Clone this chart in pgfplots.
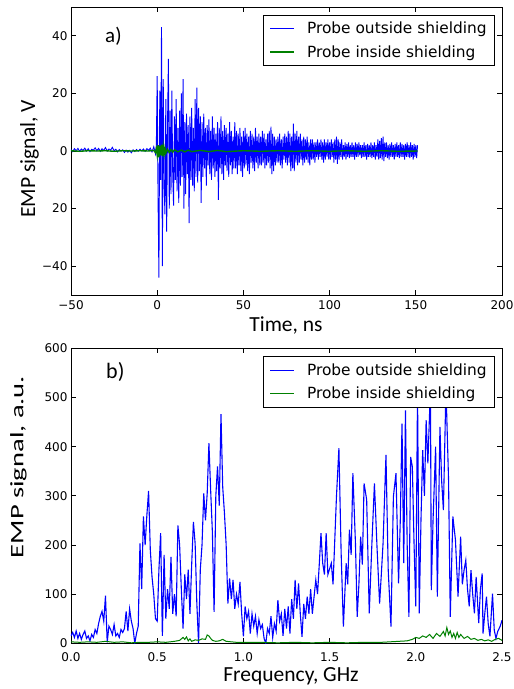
\documentclass[border=0pt]{standalone}
\usepackage{pgfplots}
\pgfplotsset{compat=1.18}
\usepackage{fontspec}
\setmainfont{Carlito}
\newfontfamily\dejavu{DejaVu Sans}
\definecolor{mplblue}{rgb}{0,0,1}
\definecolor{mplgreen}{rgb}{0,0.5,0}
\pgfplotsset{
  panel/.style={
    scale only axis, width=431pt,
    axis line style={black, line width=0.9pt},
    major tick style={black, line width=0.8pt},
    major tick length=5pt,
    tick align=inside,
    tick label style={font=\dejavu\fontsize{12}{14}\selectfont},
    legend style={at={(0.984,0.973)}, anchor=north east, draw=black, line width=0.9pt,
      font=\dejavu\fontsize{15.4}{18}\selectfont, inner xsep=6pt, inner ysep=5pt,
      row sep=6pt, cells={anchor=west},
      /tikz/every odd column/.append style={column sep=10pt}},
    legend image code/.code={\draw[#1,line width=1.1pt] (0pt,0pt) -- (24pt,0pt);},
    legend cell align=left,
  }
}
\begin{document}
\begin{tikzpicture}[x=1pt,y=1pt]
\path[use as bounding box] (0,0) rectangle (514,-689);
% ---------------- panel a ----------------
\begin{axis}[panel, at={(71pt,-295pt)}, anchor=south west, height=288pt,
  xmin=-50, xmax=200, ymin=-50, ymax=50,
  xtick={-50,0,50,100,150,200}, xticklabels={−50,0,50,100,150,200},
  ytick={-40,-20,0,20,40}, yticklabels={−40,20,0,20,40},
  xticklabel style={yshift=-2pt}]
\addplot[mplblue, line width=0.9pt] coordinates {
(-50,0.5) (-49,-0.2) (-48,0.8) (-47,0.1) (-46,0.9) (-45,-0.1) (-44,0.7) (-43,0.2) (-42,1.0) (-41,0.0)
(-40,0.8) (-39,-0.2) (-38,0.6) (-37,0.3) (-36,1.1) (-35,0.1) (-34,0.9) (-33,-0.1) (-32,0.8) (-31,0.2)
(-30,1.2) (-29,0.0) (-28,0.7) (-27,0.3) (-26,1.3) (-25,0.1) (-24,0.6) (-23,-0.3) (-22,0.5) (-21,0.0)
(-20,0.4) (-19,-0.5) (-18,0.3) (-17,-0.4) (-16,0.2) (-15,-0.6) (-14,0.4) (-13,-0.2) (-12,0.5) (-11,-0.1)
(-10,0.6) (-9,0.0) (-8,0.7) (-7,-0.1) (-6,0.8) (-5,0.2) (-4,1.0) (-3,-0.3) (-2,1.5) (-1,-1.0) (-0.5,2.0)
(0.0,26) (0.5,-17) (1.0,-44) (1.5,21) (2.0,-10) (2.5,43) (3.0,-40) (3.5,25) (4.0,-12) (4.5,-22)
(5.0,18) (5.5,-28) (6.0,10) (6.5,32) (7.0,-20) (7.5,14) (8.0,-15) (8.5,21) (9.0,-8) (9.5,-19)
(10,12) (10.5,-10) (11,18) (11.5,-14) (12,8) (12.5,-18) (13,14) (13.5,-12) (14,20) (14.5,-9)
(15,25) (15.5,-20) (16,10) (16.5,-15) (17,13) (17.5,-8) (18,9) (18.5,-25) (19,12) (19.5,-10)
(20,15) (20.5,-12) (21,8) (21.5,-14) (22,18) (22.5,-9) (23,22) (23.5,-11) (24,15) (24.5,-7)
(25,12) (25.5,-18) (26,10) (26.5,-9) (27,13) (27.5,-6) (28,8) (28.5,-12) (29,9) (29.5,-5)
(30,11) (30.5,-8) (31,7) (31.5,-10) (32,12) (32.5,-6) (33,8) (33.5,-9) (34,6) (34.5,-7)
(35,10) (35.5,-17) (36,8) (36.5,-6) (37,12) (37.5,-8) (38,7) (38.5,-10) (39,9) (39.5,-5)
(40,8) (40.5,-7) (41,6) (41.5,-9) (42,10) (42.5,-5) (43,7) (43.5,-8) (44,5) (44.5,-6)
(45,10) (45.5,-6) (46,7) (46.5,-8) (47,6) (47.5,-5) (48,8) (48.5,-7) (49,5) (49.5,-9)
(50,7) (50.5,-6) (51,8) (51.5,-5) (52,6) (52.5,-7) (53,5) (53.5,-8) (54,7) (54.5,-4)
(55,6) (55.5,-6) (56,5) (56.5,-7) (57,8) (57.5,-4) (58,5) (58.5,-6) (59,6) (59.5,-5)
(60,5) (60.5,-5) (61,7) (61.5,-4) (62,6) (62.5,-6) (63,4) (63.5,-5) (64,6) (64.5,-4)
(65,7) (65.5,-6) (66,8.5) (66.5,-8) (67,6) (67.5,-7) (68,5) (68.5,-5) (69,4) (69.5,-4)
(70,5) (70.5,-4) (71,6) (71.5,-5) (72,4) (72.5,-6) (73,5) (73.5,-3) (74,6) (74.5,-4)
(75,5) (75.5,-5) (76,7) (76.5,-4) (77,6) (77.5,-7) (78,5) (78.5,-6) (79,9.5) (79.5,-7)
(80,6) (80.5,-4) (81,7) (81.5,-5) (82,5) (82.5,-4) (83,6) (83.5,-3) (84,4) (84.5,-5)
(85,5) (85.5,-4) (86,4) (86.5,-3) (87,5) (87.5,-4) (88,3) (88.5,-5) (89,4) (89.5,-3)
(90,4) (90.5,-3) (91,3) (91.5,-4) (92,3) (92.5,-2) (93,4) (93.5,-3) (94,3) (94.5,-2)
(95,4) (95.5,-3) (96,3) (96.5,-4) (97,4) (97.5,-3) (98,3) (98.5,-2) (99,4) (99.5,-3)
(100,3) (100.5,-3) (101,4) (101.5,-2) (102,3) (102.5,-4) (103,4) (103.5,-3) (104,5) (104.5,-4.5)
(105,4) (105.5,-3) (106,3) (106.5,-2) (107,4) (107.5,-3) (108,2) (108.5,-2) (109,3) (109.5,-3)
(110,2.5) (110.5,-2) (111,3) (111.5,-2.5) (112,2) (112.5,-2) (113,3) (113.5,-2) (114,2) (114.5,-3)
(115,3) (115.5,-2) (116,2.5) (116.5,-2) (117,3) (117.5,-1.5) (118,2) (118.5,-2.5) (119,2) (119.5,-2)
(120,3) (120.5,-2) (121,2) (121.5,-3) (122,2.5) (122.5,-2) (123,2) (123.5,-2) (124,3) (124.5,-2.5)
(125,2) (125.5,-2) (126,3) (126.5,-3) (127,2) (127.5,-2) (128,4) (128.5,-3) (129,3.5) (129.5,-2.5)
(130,4.5) (130.5,-3) (131,5) (131.5,-3.5) (132,3) (132.5,-2) (133,3) (133.5,-2.5) (134,2) (134.5,-3)
(135,2.5) (135.5,-2) (136,3) (136.5,-2) (137,2) (137.5,-3) (138,2.5) (138.5,-2) (139,3) (139.5,-2)
(140,2) (140.5,-2.5) (141,3) (141.5,-2) (142,2.5) (142.5,-2) (143,2) (143.5,-3) (144,2.5) (144.5,-2)
(145,3) (145.5,-2) (146,2) (146.5,-2.5) (147,3) (147.5,-2) (148,2) (148.5,-3) (149,2.5) (149.5,-2)
(150,2) (150.5,-2.5) (151,2)
};
\addplot[mplgreen, line width=1.4pt] coordinates {
(-50,0.1) (-45,-0.1) (-40,0.1) (-35,0) (-30,0.1) (-25,-0.1) (-20,0.1) (-15,0) (-10,0.1) (-5,0)
(-2,0.2) (-1,-0.5) (-0.5,0.8) (0,-1.5) (0.5,2.0) (1,-2.2) (1.5,1.8) (2,-1.5) (2.5,2.2) (3,-1.8)
(3.5,1.5) (4,-1.2) (4.5,1.0) (5,-0.8) (6,0.6) (7,-0.5) (8,0.5) (9,-0.4) (10,0.4) (12,-0.3)
(14,0.3) (16,-0.3) (18,0.3) (20,-0.2) (25,0.2) (30,-0.2) (35,0.2) (40,-0.2) (50,0.1) (60,-0.1)
(70,0.1) (80,-0.1) (90,0.1) (100,-0.1) (110,0.1) (120,-0.1) (130,0.1) (140,-0.1) (151,0)
};
\legend{Probe outside shielding, Probe inside shielding}
\end{axis}
% ---------------- panel b ----------------
\begin{axis}[panel, at={(71pt,-643.3pt)}, anchor=south west, height=295pt,
  xmin=0, xmax=2.5, ymin=0, ymax=600,
  xtick={0,0.5,1,1.5,2,2.5}, xticklabels={0.0,0.5,1.0,1.5,2.0,2.5},
  ytick={0,100,200,300,400,500,600}, yticklabels={0,100,200,300,400,500,600},
  xticklabel style={yshift=-6pt}]
\addplot[mplblue, line width=1.1pt] coordinates {
(0.00,15) (0.01,22) (0.02,12) (0.03,25) (0.04,10) (0.05,20) (0.06,8) (0.07,18) (0.08,25) (0.09,10)
(0.10,15) (0.11,5) (0.12,18) (0.13,12) (0.14,28) (0.15,20) (0.16,40) (0.17,55) (0.18,65) (0.19,45)
(0.20,97) (0.21,2) (0.22,35) (0.23,28) (0.24,18) (0.25,38) (0.26,15) (0.27,20) (0.28,12) (0.29,28)
(0.30,22) (0.31,30) (0.32,65) (0.33,25) (0.34,70) (0.35,45) (0.36,30) (0.37,0) (0.38,20) (0.39,35)
(0.40,203) (0.41,110) (0.42,258) (0.43,200) (0.44,260) (0.45,310) (0.46,190) (0.47,135) (0.48,100) (0.49,50)
(0.50,45) (0.51,150) (0.52,224) (0.53,15) (0.54,180) (0.55,50) (0.56,110) (0.57,70) (0.58,176) (0.59,60)
(0.60,100) (0.61,55) (0.62,240) (0.63,200) (0.64,110) (0.65,30) (0.66,140) (0.67,90) (0.68,150) (0.69,60)
(0.70,160) (0.71,247) (0.72,203) (0.73,80) (0.74,0) (0.75,150) (0.76,200) (0.77,305) (0.78,250) (0.79,305)
(0.80,407) (0.81,312) (0.82,227) (0.83,64) (0.84,300) (0.85,360) (0.86,280) (0.87,466) (0.88,318) (0.89,265)
(0.90,200) (0.91,81) (0.92,132) (0.93,90) (0.94,129) (0.95,70) (0.96,100) (0.97,80) (0.98,125) (0.99,60)
(1.00,14) (1.01,75) (1.02,50) (1.03,65) (1.04,20) (1.05,60) (1.06,35) (1.07,55) (1.08,20) (1.09,48)
(1.10,30) (1.11,38) (1.12,10) (1.13,0) (1.14,30) (1.15,20) (1.16,55) (1.17,12) (1.18,40) (1.19,25)
(1.20,88) (1.21,45) (1.22,60) (1.23,15) (1.24,70) (1.25,30) (1.26,75) (1.27,20) (1.28,90) (1.29,50)
(1.30,129) (1.31,70) (1.32,122) (1.33,60) (1.34,13) (1.35,80) (1.36,50) (1.37,95) (1.38,60) (1.39,110)
(1.40,60) (1.41,95) (1.42,129) (1.43,100) (1.44,160) (1.45,224) (1.46,163) (1.47,140) (1.48,224) (1.49,140)
(1.51,163) (1.52,120) (1.53,210) (1.54,300) (1.554,397) (1.567,183) (1.58,34) (1.596,163) (1.605,120) (1.615,231)
(1.625,180) (1.635,346) (1.65,203) (1.66,54) (1.67,120) (1.68,217) (1.69,160) (1.70,325) (1.715,292) (1.73,61)
(1.745,200) (1.76,325) (1.775,196) (1.79,81) (1.80,140) (1.81,203) (1.827,383) (1.84,149) (1.856,34) (1.87,298)
(1.885,346) (1.90,122) (1.91,250) (1.92,447) (1.93,163) (1.94,474) (1.95,200) (1.96,54) (1.97,379) (1.98,359)
(1.99,200) (2.00,75) (2.01,510) (2.02,61) (2.03,250) (2.04,393) (2.05,300) (2.06,454) (2.07,366) (2.085,520)
(2.09,108) (2.10,250) (2.115,400) (2.125,95) (2.14,440) (2.15,330) (2.16,271) (2.175,520) (2.19,332) (2.20,54)
(2.215,258) (2.23,210) (2.245,95) (2.26,217) (2.27,120) (2.28,149) (2.29,169) (2.30,110) (2.31,75) (2.32,149)
(2.33,100) (2.34,61) (2.35,135) (2.365,41) (2.375,110) (2.385,142) (2.39,20) (2.40,60) (2.41,95) (2.42,40)
(2.43,14) (2.445,101) (2.455,27) (2.465,10) (2.475,24) (2.49,35) (2.50,47)
};
\addplot[mplgreen, line width=1pt] coordinates {
(0,3) (0.05,2) (0.1,3) (0.15,2) (0.2,4) (0.25,2) (0.3,3) (0.35,1) (0.4,2) (0.45,2)
(0.5,3) (0.55,2) (0.6,4) (0.63,6) (0.65,12) (0.66,8) (0.67,13) (0.68,5) (0.69,9) (0.70,4)
(0.72,7) (0.74,6) (0.76,9) (0.78,8) (0.79,17) (0.80,15) (0.81,10) (0.82,6) (0.84,4) (0.86,5)
(0.88,8) (0.90,4) (0.93,3) (0.96,2) (1.0,2) (1.1,2) (1.2,1) (1.3,2) (1.4,1) (1.5,2)
(1.6,1) (1.7,2) (1.8,2) (1.85,3) (1.9,4) (1.95,5) (1.98,8) (2.0,12) (2.02,10) (2.04,15)
(2.06,12) (2.08,18) (2.10,10) (2.12,20) (2.14,14) (2.16,24) (2.17,15) (2.18,32) (2.19,18) (2.20,25)
(2.21,12) (2.22,20) (2.23,10) (2.24,22) (2.25,12) (2.26,18) (2.28,10) (2.30,14) (2.32,8) (2.34,10)
(2.36,6) (2.38,8) (2.40,5) (2.42,7) (2.44,4) (2.46,8) (2.48,10) (2.5,6)
};
\legend{Probe outside shielding, Probe inside shielding}
\end{axis}
% ---------------- labels ----------------
\node[anchor=base, font=\fontsize{21.5}{24}\selectfont] at (286,-331.7) {Time, ns};
\node[anchor=base, font=\fontsize{21.5}{24}\selectfont] at (291,-681.6) {Frequency, GHz};
\node[anchor=base, rotate=90, font=\fontsize{21.6}{24}\selectfont] at (35,-159) {EMP signal, V};
\node[anchor=base, rotate=90, font=\fontsize{19}{22}\selectfont] at (23.3,-467) {\scalebox{1.5}[1]{EMP signal, a.u.}};
\node[anchor=base west, inner sep=0pt, font=\fontsize{21}{24}\selectfont] at (105,-42) {a)};
\node[anchor=base west, inner sep=0pt, font=\fontsize{22}{24}\selectfont] at (106,-378) {b)};
\end{tikzpicture}
\end{document}
